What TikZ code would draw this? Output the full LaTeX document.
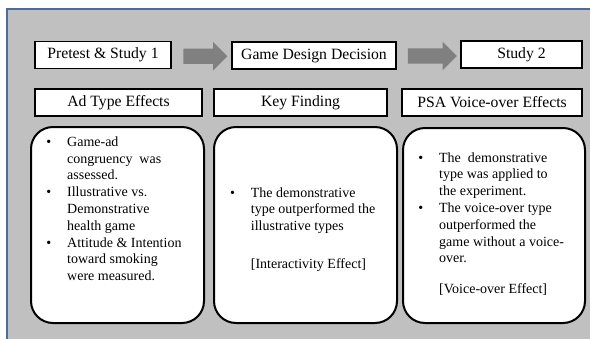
\documentclass[tikz,border=0pt]{standalone}
\usepackage{fontspec}
\setmainfont{Liberation Serif}
\usetikzlibrary{shapes.arrows,calc}
\definecolor{bggray}{RGB}{192,192,192}
\definecolor{frameblue}{RGB}{74,108,158}
\definecolor{arrowgray}{RGB}{128,128,128}
\newcommand{\mybullet}{\llap{\textbullet\hspace{16pt}}}
\begin{document}
\begin{tikzpicture}[x=1pt,y=-1pt,
  hdr/.style={draw=black, line width=1.8pt, fill=white, inner sep=0pt,
    font=\fontsize{15.7}{18}\selectfont, minimum height=27pt},
  card/.style={draw=black, line width=2pt, fill=white, rounded corners=22pt, inner sep=0pt},
  body/.style={anchor=north west, align=left, inner sep=0pt,
    font=\fontsize{14}{16.8}\selectfont},
  blockarrow/.style={single arrow, fill=arrowgray, draw=none, minimum width=28pt,
    single arrow head extend=6.5pt, inner xsep=0pt, inner ysep=7.5pt}]
\useasboundingbox (0,0) rectangle (590,338);
\fill[white] (0,0) rectangle (590,338);
\fill[bggray] (7,9) rectangle (592,340);
\draw[frameblue, line width=2pt] (7,340) -- (7,9) -- (592,9);

% top row
\node[hdr, minimum width=136pt] (p1) at (103,55) {Pretest \& Study 1};
\node[hdr, minimum width=164pt] (g1) at (314,55.5) {Game Design Decision};
\node[hdr, minimum width=121pt] (s2) at (521.5,54.5) {Study 2};

\node[blockarrow, minimum height=44pt] (a1) at ($(p1.east)!0.5!(g1.west)+(0,1)$) {};
\node[blockarrow, minimum height=49pt] (a2) at ($(g1.east)!0.5!(s2.west)+(0,1)$) {};

% second row
\node[hdr, minimum width=167pt] (ad) at (118.5,102.5) {Ad Type Effects};
\node[hdr, minimum width=173pt] (kf) at (300.5,102.5) {Key Finding};
\node[hdr, minimum width=180pt] (psa) at (492,102.5) {PSA Voice-over Effects};

% cards
\node[card, minimum width=173pt, minimum height=196pt] (c1) at (117.5,225) {};
\node[card, minimum width=183pt, minimum height=196pt] (c2) at (305.5,225) {};
\node[card, minimum width=182pt, minimum height=195pt] (c3) at (494,225.5) {};

\node[body] (t1) at (67,136.4) {\mybullet Game-ad\\congruency\ \ was\\assessed.\\
  \mybullet Illustrative vs.\\Demonstrative\\health game\\
  \mybullet Attitude \& Intention\\toward smoking\\were measured.};
\node[body] (t2) at (250.7,187.1) {\mybullet The demonstrative\\type outperformed the\\illustrative types\\[20.9pt]
  [Interactivity Effect]};
\node[body] (t3) at (439,152.1) {\mybullet The\ \ demonstrative\\type was applied to\\the experiment.\\
  \mybullet The voice-over type\\outperformed the\\game without a voice-\\over.\\[13.5pt]
  [Voice-over Effect]};
\end{tikzpicture}
\end{document}
